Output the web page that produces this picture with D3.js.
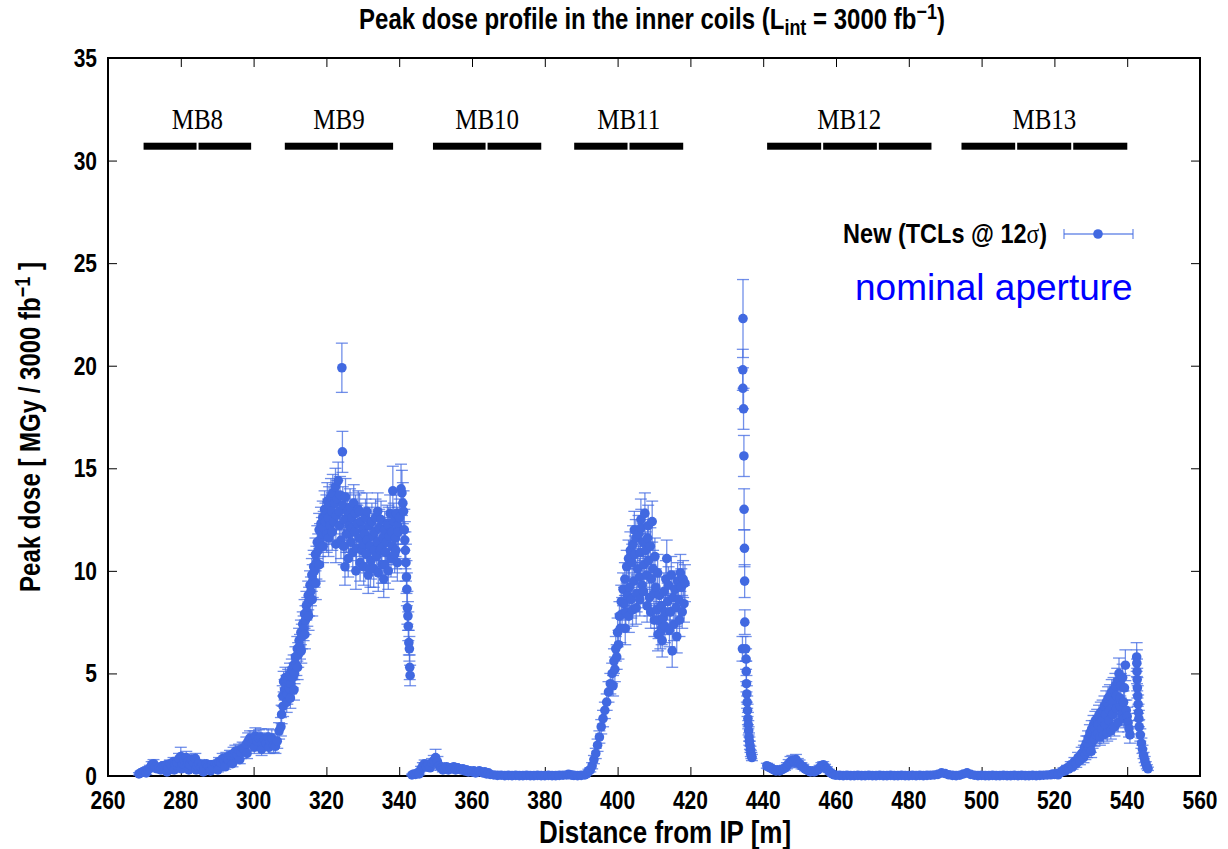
<!DOCTYPE html>
<html>
<head>
<meta charset="utf-8">
<script src="https://cdn.jsdelivr.net/npm/d3@7"></script>
<style>
  body { margin: 0; background: #fff; }
  text { font-family: "Liberation Sans", Arial, Helvetica, sans-serif; }
</style>
</head>
<body>
<div id="chart"></div>
<script>
// ---- data: [distance (m), peak dose (MGy), error] ----
var segLow1 = [[268.5,0.10,0.06],[269.0,0.15,0.08],[269.5,0.20,0.08],[270.0,0.25,0.10],[270.5,0.15,0.08],[271.0,0.30,0.10],[271.5,0.40,0.12],[272.0,0.55,0.15],[272.5,0.60,0.20],[273.0,0.45,0.15],[273.5,0.35,0.12],[274.0,0.40,0.12],[274.5,0.30,0.10],[275.0,0.50,0.15],[275.5,0.45,0.15],[276.0,0.55,0.15],[276.2,0.20,0.08],[276.5,0.40,0.12],[277.0,0.60,0.18],[277.5,0.50,0.15],[278.0,0.70,0.20],[278.2,0.30,0.10],[278.5,0.55,0.15],[279.0,0.65,0.20],[279.5,0.85,0.25],[280.0,0.95,0.45],[280.2,0.35,0.10],[280.5,0.60,0.20],[281.0,0.75,0.25],[281.5,0.90,0.30],[282.0,0.70,0.20],[282.2,0.30,0.10],[282.5,0.55,0.15],[283.0,0.80,0.25],[283.5,0.65,0.20],[284.0,0.85,0.25],[284.2,0.30,0.10],[284.5,0.50,0.15],[285.0,0.60,0.20],[285.5,0.45,0.15],[286.0,0.55,0.15],[286.2,0.20,0.08],[286.5,0.40,0.12],[287.0,0.60,0.15],[287.5,0.50,0.15],[288.0,0.45,0.12],[288.2,0.25,0.08],[288.5,0.55,0.15],[289.0,0.40,0.12],[289.5,0.60,0.15],[290.0,0.55,0.15],[290.2,0.30,0.10],[290.5,0.70,0.20],[291.0,0.65,0.20],[291.5,0.85,0.25],[292.0,0.75,0.20],[292.2,0.45,0.12],[292.5,0.90,0.25],[293.0,0.80,0.20],[293.5,1.00,0.25],[294.0,0.95,0.25],[294.2,0.60,0.15],[294.5,1.10,0.30],[295.0,1.20,0.30],[295.5,1.05,0.25],[296.0,1.25,0.30],[296.2,0.80,0.20],[296.5,1.15,0.30],[297.0,1.35,0.30],[297.5,1.30,0.30],[298.0,1.55,0.35],[298.2,1.10,0.25],[298.5,1.70,0.40],[299.0,1.85,0.35],[299.5,1.60,0.35],[300.0,1.80,0.40],[300.2,1.40,0.30],[300.5,1.95,0.40],[301.0,1.70,0.35],[301.5,1.85,0.40],[302.0,1.90,0.40],[302.2,1.30,0.30],[302.5,1.65,0.35],[303.0,1.75,0.35],[303.5,1.60,0.35],[304.0,1.90,0.40],[304.2,1.40,0.30],[304.5,1.70,0.35],[305.0,1.85,0.40],[305.5,1.50,0.35],[306.0,1.45,0.35],[306.5,1.70,0.35],[307.0,2.20,0.40],[307.5,2.40,0.45],[307.7,3.00,0.45]]

var segMB9 = [[308.0,3.9,0.5],[308.1,3.4,0.5],[308.25,4.6,0.5],[308.5,4.2,0.5],[308.75,4.8,0.5],[309.0,4.4,0.5],[309.1,3.6,0.5],[309.25,4.0,0.5],[309.5,4.7,0.5],[309.75,4.3,0.5],[310.0,5.0,0.5],[310.1,3.8,0.5],[310.25,4.5,0.5],[310.5,5.2,0.5],[310.75,4.8,0.5],[311.0,5.4,0.5],[311.1,4.2,0.5],[311.25,5.0,0.5],[311.5,5.8,0.5],[311.75,5.4,0.5],[312.0,6.2,0.6],[312.1,5.3,0.6],[312.25,5.9,0.6],[312.5,6.6,0.6],[312.75,6.3,0.6],[313.0,7.0,0.6],[313.1,6.1,0.6],[313.25,6.8,0.6],[313.5,7.4,0.6],[313.75,7.2,0.6],[314.0,7.9,0.7],[314.1,6.9,0.7],[314.25,7.6,0.7],[314.5,8.3,0.7],[314.75,8.0,0.7],[315.0,8.8,0.7],[315.1,7.8,0.7],[315.25,8.5,0.7],[315.5,9.3,0.7],[315.75,9.0,0.7],[316.0,9.8,0.8],[316.1,8.6,0.8],[316.25,9.5,0.8],[316.5,10.2,0.8],[316.75,10.0,0.8],[317.0,10.8,0.8],[317.1,9.4,0.8],[317.25,10.4,0.8],[317.5,11.4,0.8],[317.75,11.0,0.8],[318.0,12.0,0.8],[318.1,10.3,0.8],[318.25,11.5,0.8],[318.5,12.3,0.8],[318.75,11.8,0.8],[319.0,12.6,0.8],[319.1,11.2,0.8],[319.25,12.1,0.8],[319.5,13.0,0.9],[319.75,12.4,0.9],[320.0,12.8,0.9],[320.1,11.8,0.9],[320.25,13.4,0.9],[320.5,12.6,0.9],[320.6,11.6,0.9],[320.75,13.2,0.9],[321.0,12.2,0.9],[321.25,13.6,0.9],[321.5,12.9,0.9],[321.6,11.9,0.9],[321.75,13.8,0.9],[322.0,12.4,0.9],[322.25,13.3,0.9],[322.5,14.1,0.9],[322.6,11.3,0.9],[322.75,12.7,0.9],[323.0,13.5,0.9],[323.25,14.4,0.9],[323.5,12.9,0.9],[323.6,12.2,0.9],[323.75,13.7,0.9],[324.0,11.5,0.9],[324.25,19.9,1.2],[324.4,15.8,1.0],[324.5,13.2,0.9],[324.75,11.2,0.9],[325.0,12.5,0.9],[325.1,10.2,0.9],[325.25,13.6,0.9],[325.5,11.8,0.9],[325.75,12.9,0.9],[326.0,10.6,0.9],[326.1,11.8,0.9],[326.25,12.2,0.9],[326.5,13.1,0.9],[326.75,11.4,0.9],[327.0,12.6,0.9],[327.1,12.1,0.9],[327.25,10.9,0.9],[327.5,13.3,0.9],[327.75,11.9,0.9],[328.0,12.8,0.9],[328.1,10.0,0.9],[328.25,11.1,0.9],[328.5,12.3,0.9],[328.75,13.0,0.9],[329.0,11.6,0.9],[329.1,12.9,0.9],[329.25,10.4,0.9],[329.5,12.4,0.9],[329.75,11.0,0.9],[330.0,12.0,0.9],[330.1,11.3,0.9],[330.25,10.2,0.9],[330.5,11.8,0.9],[330.75,12.6,0.9],[331.0,10.8,0.9],[331.1,12.9,0.9],[331.25,11.5,0.9],[331.5,9.8,0.9],[331.75,12.2,0.9],[332.0,11.2,0.9],[332.1,10.1,0.9],[332.25,10.5,0.9],[332.5,12.4,0.9],[332.75,11.7,0.9],[333.0,10.1,0.9],[333.1,11.0,0.9],[333.25,11.9,0.9],[333.5,12.6,0.9],[333.75,10.7,0.9],[334.0,11.4,0.9],[334.1,12.9,0.9],[334.25,9.9,0.9],[334.5,12.1,0.9],[334.75,11.0,0.9],[335.0,12.5,0.9],[335.1,11.1,0.9],[335.25,10.3,0.9],[335.5,11.6,0.9],[335.75,9.6,0.9],[336.0,12.0,0.9],[336.1,10.3,0.9],[336.25,10.9,0.9],[336.5,11.4,0.9],[336.75,12.3,0.9],[337.0,10.0,0.9],[337.1,12.2,0.9],[337.25,11.7,0.9],[337.5,12.8,0.9],[337.75,10.6,0.9],[338.0,11.9,0.9],[338.1,11.2,0.9],[338.25,13.9,1.2],[338.5,12.4,0.9],[338.75,10.8,0.9],[339.0,11.6,0.9],[339.1,11.0,0.9],[339.25,12.8,0.9],[339.5,10.4,0.9],[339.6,12.2,0.9],[339.75,11.9,0.9],[340.1,12.6,0.9],[340.5,14.0,1.2],[340.75,13.8,1.1],[341.0,13.3,1.0],[341.2,12.9,1.0],[341.4,12.0,1.0],[341.55,11.5,0.9],[341.7,11.0,0.9],[341.85,10.4,0.9],[342.0,9.7,0.8],[342.1,9.1,0.8],[342.25,8.2,0.8],[342.4,7.8,0.7],[342.5,7.3,0.7],[342.65,6.5,0.6],[342.8,6.2,0.6],[342.9,5.3,0.6],[343.0,4.9,0.5]]

var segLow2 = [[343.5,0.05,0.04],[344.0,0.10,0.05],[344.5,0.08,0.05],[345.0,0.15,0.06],[345.5,0.10,0.05],[346.0,0.35,0.12],[346.5,0.50,0.15],[347.0,0.60,0.18],[347.5,0.45,0.15],[348.0,0.55,0.18],[348.5,0.40,0.12],[349.0,0.65,0.20],[349.5,0.75,0.25],[350.0,0.90,0.40],[350.5,0.70,0.25],[351.0,0.50,0.15],[351.5,0.40,0.12],[352.0,0.30,0.10],[352.5,0.35,0.12],[353.0,0.45,0.15],[353.5,0.30,0.10],[354.0,0.40,0.15],[354.5,0.35,0.12],[355.0,0.45,0.15],[355.5,0.30,0.10],[356.0,0.40,0.12],[356.5,0.35,0.12],[357.0,0.30,0.10],[357.5,0.35,0.10],[358.0,0.25,0.08],[358.5,0.30,0.10],[359.0,0.20,0.08],[359.5,0.25,0.08],[360.0,0.20,0.08],[360.5,0.25,0.08],[361.0,0.15,0.06],[361.5,0.20,0.06],[362.0,0.25,0.08],[362.5,0.20,0.06],[363.0,0.15,0.05],[363.5,0.20,0.06],[364.0,0.10,0.05],[364.5,0.15,0.05],[365.0,0.08,0.04],[366.0,0.05,0.03],[367.0,0.03,0.02],[368.0,0.04,0.02],[369.0,0.02,0.02],[370.0,0.03,0.02],[371.0,0.02,0.02],[372.0,0.03,0.02],[373.0,0.02,0.02],[374.0,0.02,0.02],[375.0,0.03,0.02],[376.0,0.02,0.02],[377.0,0.02,0.02],[378.0,0.03,0.02],[379.0,0.02,0.02],[380.0,0.02,0.02],[381.0,0.03,0.02],[382.0,0.02,0.02],[383.0,0.02,0.02],[384.0,0.03,0.02],[385.0,0.04,0.02],[386.0,0.05,0.03],[386.5,0.08,0.04],[387.0,0.06,0.03],[387.5,0.04,0.02],[388.0,0.03,0.02],[389.0,0.02,0.02],[390.0,0.03,0.02],[391.0,0.05,0.03],[391.5,0.10,0.05],[392.0,0.25,0.08]]

var segMB11 = [[392.5,0.3,0.1],[393.0,0.5,0.15],[393.5,0.8,0.2],[394.0,1.1,0.25],[394.5,1.5,0.3],[395.0,1.9,0.3],[395.5,2.4,0.35],[396.0,2.8,0.4],[396.5,3.2,0.4],[397.0,3.6,0.4],[397.5,4.1,0.5],[398.0,4.5,0.5],[398.5,5.0,0.5],[398.75,4.4,0.5],[399.0,5.6,0.6],[399.25,5.2,0.6],[399.5,6.2,0.6],[399.75,5.8,0.6],[400.0,7.0,0.7],[400.25,6.4,0.7],[400.5,7.8,0.7],[400.75,7.2,0.7],[401.0,8.5,0.8],[401.25,7.9,0.8],[401.5,9.1,0.8],[401.75,8.4,0.8],[402.0,9.6,0.8],[402.1,7.2,0.8],[402.25,8.0,0.8],[402.5,10.2,0.8],[402.75,8.8,0.8],[403.0,10.6,0.9],[403.1,7.8,0.8],[403.25,9.2,0.9],[403.5,11.0,0.9],[403.75,8.6,0.9],[404.0,10.4,0.9],[404.1,8.1,0.8],[404.25,11.3,0.9],[404.5,9.5,0.9],[404.6,12.0,0.9],[404.75,10.8,0.9],[405.0,11.6,0.9],[405.1,8.2,0.8],[405.25,8.9,0.9],[405.5,10.1,0.9],[405.75,11.8,0.9],[406.0,9.7,0.9],[406.1,8.6,0.8],[406.25,10.9,0.9],[406.4,12.5,1.0],[406.5,12.1,0.9],[406.75,9.3,0.9],[407.0,11.4,0.9],[407.1,9.0,0.8],[407.25,10.3,0.9],[407.5,12.8,1.0],[407.75,11.0,0.9],[408.0,9.8,0.9],[408.1,8.3,0.8],[408.25,11.6,0.9],[408.4,12.2,1.0],[408.5,10.5,0.9],[408.75,8.7,0.9],[409.0,11.2,0.9],[409.1,8.0,0.8],[409.25,9.6,0.9],[409.5,12.4,1.0],[409.75,10.1,0.9],[410.0,8.9,0.9],[410.1,7.6,0.8],[410.25,10.7,0.9],[410.5,9.2,0.9],[410.75,8.1,0.9],[411.0,9.9,0.9],[411.1,6.9,0.8],[411.25,7.6,0.9],[411.5,8.8,0.9],[411.75,7.0,0.8],[412.0,8.3,0.8],[412.1,7.2,0.8],[412.25,6.6,0.8],[412.5,7.7,0.8],[412.75,9.0,0.9],[413.0,7.3,0.8],[413.1,8.0,0.8],[413.25,9.6,0.9],[413.5,10.6,0.9],[413.75,8.5,0.9],[414.0,9.3,0.9],[414.25,7.1,0.8],[414.5,8.0,0.8],[414.75,9.8,0.9],[415.0,6.1,0.8],[415.25,8.7,0.9],[415.5,7.4,0.8],[415.75,9.1,0.9],[416.0,8.2,0.9],[416.25,6.8,0.8],[416.5,9.5,0.9],[416.75,8.6,0.9],[417.0,7.6,0.8],[417.25,9.9,0.9],[417.5,9.2,0.9],[417.75,8.0,0.8],[418.0,9.6,0.9],[418.25,8.4,0.9],[418.5,9.4,0.9]]

var segSpike = [[434.3,6.2,0.6],[434.4,19.8,1.0],[434.42,18.9,1.0],[434.45,22.3,1.9],[434.6,17.9,1.0],[434.7,15.6,1.0],[434.75,13.0,1.0],[434.85,11.1,0.9],[434.9,9.5,0.8],[434.95,7.5,0.6],[435.2,6.2,0.6],[435.3,5.7,0.5],[435.35,5.1,0.5],[435.4,4.5,0.4],[435.5,4.0,0.4],[435.6,3.6,0.3],[435.7,3.2,0.3],[435.8,2.8,0.3],[435.9,2.5,0.2],[436.0,2.2,0.2],[436.1,1.9,0.2],[436.2,1.7,0.2],[436.35,1.5,0.2],[436.5,1.3,0.15],[436.6,1.1,0.15],[436.75,1.0,0.15],[436.9,0.9,0.15]]

var segLow3 = [[441.0,0.50,0.12],[441.5,0.45,0.12],[442.0,0.40,0.10],[442.5,0.35,0.10],[443.0,0.30,0.08],[443.5,0.25,0.08],[444.0,0.30,0.08],[444.5,0.25,0.08],[445.0,0.30,0.08],[445.5,0.35,0.10],[446.0,0.40,0.12],[446.5,0.50,0.15],[447.0,0.60,0.20],[447.5,0.70,0.25],[448.0,0.75,0.25],[448.5,0.70,0.20],[449.0,0.80,0.25],[449.5,0.65,0.20],[450.0,0.60,0.18],[450.5,0.50,0.15],[451.0,0.45,0.12],[451.5,0.35,0.10],[452.0,0.30,0.08],[452.5,0.25,0.08],[453.0,0.20,0.06],[453.5,0.25,0.08],[454.0,0.20,0.06],[454.5,0.25,0.08],[455.0,0.30,0.10],[455.5,0.40,0.12],[456.0,0.50,0.15],[456.5,0.55,0.15],[457.0,0.45,0.12],[457.5,0.35,0.10],[458.0,0.25,0.08],[458.5,0.15,0.06],[459.0,0.10,0.05],[459.5,0.06,0.03],[460.0,0.04,0.02],[461.0,0.03,0.02],[462.0,0.02,0.02],[463.0,0.03,0.02],[464.0,0.02,0.02],[465.0,0.02,0.02],[466.0,0.03,0.02],[467.0,0.02,0.02],[468.0,0.02,0.02],[469.0,0.03,0.02],[470.0,0.02,0.02],[471.0,0.02,0.02],[472.0,0.03,0.02],[473.0,0.02,0.02],[474.0,0.02,0.02],[475.0,0.03,0.02],[476.0,0.02,0.02],[477.0,0.02,0.02],[478.0,0.03,0.02],[479.0,0.02,0.02],[480.0,0.02,0.02],[481.0,0.03,0.02],[482.0,0.02,0.02],[483.0,0.03,0.02],[484.0,0.02,0.02],[485.0,0.03,0.02],[486.0,0.04,0.02],[487.0,0.05,0.03],[488.0,0.08,0.04],[489.0,0.15,0.06],[490.0,0.12,0.05],[491.0,0.06,0.03],[492.0,0.03,0.02],[493.0,0.02,0.02],[494.0,0.04,0.02],[495.0,0.10,0.05],[496.0,0.15,0.06],[497.0,0.08,0.04],[498.0,0.04,0.02],[499.0,0.02,0.02],[500.0,0.03,0.02],[501.0,0.02,0.02],[502.0,0.02,0.02],[503.0,0.03,0.02],[504.0,0.02,0.02],[505.0,0.02,0.02],[506.0,0.03,0.02],[507.0,0.02,0.02],[508.0,0.02,0.02],[509.0,0.03,0.02],[510.0,0.02,0.02],[511.0,0.03,0.02],[512.0,0.02,0.02],[513.0,0.02,0.02],[514.0,0.03,0.02],[515.0,0.02,0.02],[516.0,0.03,0.02],[517.0,0.04,0.02],[518.0,0.05,0.03],[519.0,0.06,0.03],[519.5,0.10,0.05],[520.0,0.08,0.04],[520.5,0.12,0.05],[521.0,0.06,0.03],[521.5,0.15,0.06]]

var segMB13 = [[522.0,0.20,0.08],[522.5,0.30,0.10],[523.0,0.25,0.08],[523.5,0.40,0.12],[524.0,0.35,0.10],[524.5,0.55,0.15],[525.0,0.45,0.12],[525.5,0.70,0.20],[526.0,0.60,0.18],[526.5,0.90,0.25],[527.0,0.75,0.20],[527.5,1.10,0.30],[528.0,0.90,0.25],[528.1,1.20,0.30],[528.25,1.40,0.30],[528.5,1.05,0.25],[528.75,1.60,0.35],[529.0,1.20,0.30],[529.1,1.60,0.35],[529.25,1.85,0.35],[529.5,1.35,0.30],[529.75,2.10,0.40],[530.0,1.50,0.35],[530.1,1.20,0.30],[530.25,2.30,0.40],[530.5,1.70,0.35],[530.75,2.50,0.45],[531.0,1.80,0.35],[531.1,2.30,0.40],[531.25,2.70,0.45],[531.5,2.00,0.40],[531.75,2.80,0.45],[532.0,2.10,0.40],[532.1,2.50,0.45],[532.25,2.95,0.50],[532.5,1.90,0.40],[532.75,3.10,0.50],[533.0,2.30,0.40],[533.1,2.70,0.45],[533.25,3.20,0.50],[533.5,2.00,0.40],[533.75,3.40,0.50],[534.0,2.50,0.45],[534.1,3.00,0.50],[534.25,3.60,0.55],[534.5,2.10,0.40],[534.75,3.80,0.55],[535.0,2.70,0.45],[535.1,3.20,0.50],[535.25,3.90,0.55],[535.5,2.20,0.40],[535.75,4.10,0.60],[536.0,3.00,0.50],[536.1,3.60,0.55],[536.25,4.20,0.60],[536.5,2.40,0.45],[536.75,4.40,0.60],[537.0,3.30,0.50],[537.1,3.90,0.55],[537.25,4.60,0.65],[537.5,2.60,0.45],[537.75,5.00,0.75],[538.0,3.80,0.55],[538.1,3.40,0.50],[538.25,4.40,0.60],[538.5,3.00,0.50],[538.75,4.80,0.65],[539.0,3.60,0.55],[539.1,2.80,0.45],[539.25,4.30,0.60],[539.5,5.40,0.75],[539.75,3.20,0.50],[540.0,2.90,0.45],[540.25,2.60,0.45],[540.5,2.30,0.40],[540.75,2.00,0.40],[542.6,5.80,0.70],[542.65,5.50,0.65],[542.7,5.10,0.60],[542.75,4.70,0.55],[542.8,4.30,0.50],[542.9,3.90,0.50],[543.0,3.50,0.45],[543.1,3.10,0.40],[543.2,2.80,0.40],[543.3,2.40,0.35],[543.6,2.00,0.30],[543.9,1.60,0.25],[544.2,1.30,0.20],[544.5,1.00,0.15],[544.8,0.80,0.15],[545.1,0.60,0.10],[545.4,0.45,0.10],[545.7,0.35,0.08]]

var xTicks = [260, 280, 300, 320, 340, 360, 380, 400, 420, 440, 460, 480, 500, 520, 540, 560]
var yTicks = [0, 5, 10, 15, 20, 25, 30, 35]

// magnet names and segment edges along the beam line (m)
var magnetNames = ["MB8", "MB9", "MB10", "MB11", "MB12", "MB13"]
var magnetEdges = [
    [269.5, 284.6, 299.6],
    [308.3, 323.4, 338.6],
    [349.0, 364.0, 379.3],
    [387.8, 403.0, 418.3],
    [440.8, 456.2, 471.5, 486.5],
    [494.2, 509.5, 524.9, 540.3]
]
var magnetLevel = 30.7

var W = 1228, H = 849
var margins = {left: 108, right: 28, top: 58, bottom: 73}
var innerW = W - margins.left - margins.right
var innerH = H - margins.top - margins.bottom
var blue = "#4169e1"
var stretch = 1.2   // the original's lettering is taller than it is wide

var svg = d3.select("#chart").append("svg")
    .attr("width", W)
    .attr("height", H)

var plot = svg.append("g")
    .attr("transform", "translate(" + margins.left + "," + margins.top + ")")

var xScale = d3.scaleLinear().domain([260, 560]).range([0, innerW])
var yScale = d3.scaleLinear().domain([0, 35]).range([innerH, 0])

var allPoints = [].concat(segLow1, segMB9, segLow2, segMB11, segSpike, segLow3, segMB13)

// a text placed at (x, y) and stretched vertically
function tallText(parent, x, y, size, anchor, extra) {
    return parent.append("text")
        .attr("transform", "translate(" + x + "," + y + ")" + (extra || "") + " scale(1," + stretch + ")")
        .attr("text-anchor", anchor)
        .style("font-size", size + "px")
        .style("font-weight", "bold")
}

// axes with inward ticks on all four sides
function styleAxis(g) {
    g.select(".domain").remove()
    g.selectAll(".tick line").attr("stroke", "#000").attr("stroke-width", 1)
}

plot.append("g")
    .attr("transform", "translate(0," + innerH + ")")
    .call(d3.axisBottom(xScale).tickValues(xTicks).tickSize(-9).tickFormat(""))
    .call(styleAxis)
plot.append("g")
    .call(d3.axisTop(xScale).tickValues(xTicks).tickSize(-9).tickFormat(""))
    .call(styleAxis)
plot.append("g")
    .call(d3.axisLeft(yScale).tickValues(yTicks).tickSize(-9).tickFormat(""))
    .call(styleAxis)
plot.append("g")
    .attr("transform", "translate(" + innerW + ",0)")
    .call(d3.axisRight(yScale).tickValues(yTicks).tickSize(-9).tickFormat(""))
    .call(styleAxis)

xTicks.forEach(function(v) {
    tallText(plot, xScale(v), innerH + 33, 21, "middle").text(v)
})
yTicks.forEach(function(v) {
    tallText(plot, -11, yScale(v) + 9, 21, "end").text(v)
})

plot.append("rect")
    .attr("width", innerW)
    .attr("height", innerH)
    .attr("fill", "none")
    .attr("stroke", "#000")
    .attr("stroke-width", 2)

// magnet bars and names
magnetEdges.forEach(function(edges, i) {
    for (var k = 0; k < edges.length - 1; k++) {
        plot.append("rect")
            .attr("x", xScale(edges[k]) + 1)
            .attr("y", yScale(magnetLevel) - 3.5)
            .attr("width", xScale(edges[k + 1]) - xScale(edges[k]) - 2)
            .attr("height", 7)
            .attr("fill", "#000")
    }
    tallText(plot, xScale((edges[0] + edges[edges.length - 1]) / 2), yScale(magnetLevel) - 17, 25, "middle")
        .style("font-family", "'Liberation Serif', 'Times New Roman', serif")
        .style("font-weight", "normal")
        .text(magnetNames[i])
})

// error bars
var bars = plot.append("g")
    .attr("stroke", blue)
    .attr("stroke-opacity", 0.75)
    .attr("stroke-width", 1.3)
bars.selectAll("line.v")
    .data(allPoints).enter().append("line")
    .attr("x1", function(d) { return xScale(d[0]) })
    .attr("x2", function(d) { return xScale(d[0]) })
    .attr("y1", function(d) { return yScale(d[1] - d[2]) })
    .attr("y2", function(d) { return yScale(d[1] + d[2]) })
bars.selectAll("line.t")
    .data(allPoints).enter().append("line")
    .attr("x1", function(d) { return xScale(d[0]) - 6 })
    .attr("x2", function(d) { return xScale(d[0]) + 6 })
    .attr("y1", function(d) { return yScale(d[1] + d[2]) })
    .attr("y2", function(d) { return yScale(d[1] + d[2]) })
bars.selectAll("line.b")
    .data(allPoints).enter().append("line")
    .attr("x1", function(d) { return xScale(d[0]) - 6 })
    .attr("x2", function(d) { return xScale(d[0]) + 6 })
    .attr("y1", function(d) { return yScale(d[1] - d[2]) })
    .attr("y2", function(d) { return yScale(d[1] - d[2]) })

plot.append("g").selectAll("circle")
    .data(allPoints).enter().append("circle")
    .attr("cx", function(d) { return xScale(d[0]) })
    .attr("cy", function(d) { return yScale(d[1]) })
    .attr("r", 4.8)
    .attr("fill", blue)

// text with sub/superscripts
function richText(sel, parts) {
    parts.forEach(function(p) {
        var t = sel.append("tspan").text(p.t)
        if (p.s === "sub") t.attr("dy", 5).style("font-size", "0.75em")
        if (p.s === "sup") t.attr("dy", -8).style("font-size", "0.75em")
        if (p.s === "back") t.attr("dy", p.dy)
    })
}

var title = tallText(svg, 652, 29, 24, "middle")
richText(title, [{t: "Peak dose profile in the inner coils (L"}, {t: "int", s: "sub"},
    {t: " = 3000 fb", s: "back", dy: -5}, {t: "\u22121", s: "sup"}, {t: ")", s: "back", dy: 8}])

tallText(svg, 665, 843, 26, "middle").text("Distance from IP [m]")

var ylab = tallText(svg, 40, 427, 24, "middle", " rotate(-90)")
richText(ylab, [{t: "Peak dose [ MGy / 3000 fb"}, {t: "\u22121", s: "sup"}, {t: " ]", s: "back", dy: 8}])

// legend
var legend = tallText(svg, 1047, 243, 23.5, "end")
legend.append("tspan").text("New (TCLs @ 12")
legend.append("tspan").style("font-weight", "normal").style("font-family", "'Liberation Serif', serif").text("\u03c3")
legend.append("tspan").text(")")

var lg = svg.append("g").attr("stroke", blue).attr("stroke-opacity", 0.75).attr("stroke-width", 1.3)
lg.append("line").attr("x1", 1064).attr("x2", 1133).attr("y1", 234).attr("y2", 234)
lg.append("line").attr("x1", 1064).attr("x2", 1064).attr("y1", 229).attr("y2", 239)
lg.append("line").attr("x1", 1133).attr("x2", 1133).attr("y1", 229).attr("y2", 239)
svg.append("circle").attr("cx", 1098).attr("cy", 234).attr("r", 4.8).attr("fill", blue)

svg.append("text")
    .attr("x", 855).attr("y", 300)
    .attr("fill", "#0000ff")
    .style("font-size", "37px")
    .text("nominal aperture")
</script>
</body>
</html>
